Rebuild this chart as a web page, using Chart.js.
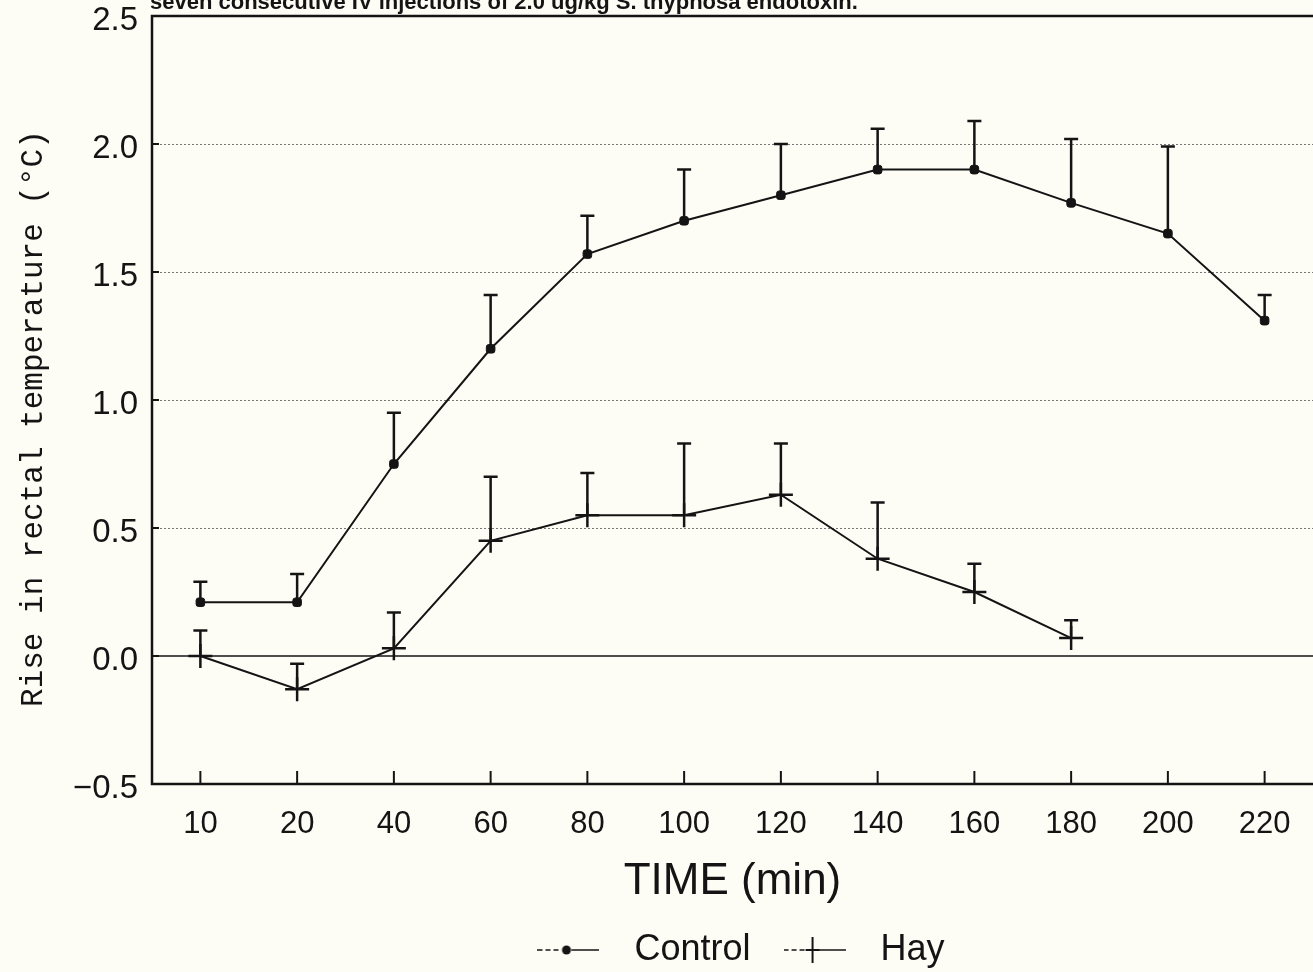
<!DOCTYPE html>
<html>
<head>
<meta charset="utf-8">
<script src="https://cdn.jsdelivr.net/npm/chart.js@4.4.0/dist/chart.umd.min.js"></script>
<style>
  html, body { margin: 0; padding: 0; background: #fdfcf5; overflow: hidden; }
  canvas { display: block; }
</style>
</head>
<body>
<canvas id="chart" width="1313" height="972"></canvas>
<script>
// time points (min), equally spaced on the original plot
const times = ['10', '20', '40', '60', '80', '100', '120', '140', '160', '180', '200', '220'];

// rise in rectal temperature (deg C), mean and top of error bar
const controlMean  = [0.21, 0.21, 0.75, 1.20, 1.57, 1.70, 1.80, 1.90, 1.90, 1.77, 1.65, 1.31];
const controlUpper = [0.29, 0.32, 0.95, 1.41, 1.72, 1.90, 2.00, 2.06, 2.09, 2.02, 1.99, 1.41];
const hayMean  = [0.00, -0.13, 0.03, 0.45, 0.55, 0.55, 0.63, 0.38, 0.25, 0.07, null, null];
const hayUpper = [0.10, -0.03, 0.17, 0.70, 0.715, 0.83, 0.83, 0.60, 0.36, 0.14, null, null];

const yTicks = [-0.5, 0.0, 0.5, 1.0, 1.5, 2.0, 2.5];
const dottedGrid = [0.5, 1.0, 1.5, 2.0];

const topNote = 'seven consecutive IV injections of 2.0 ug/kg S. thyphosa endotoxin.';

const INK = '#141414';
const SANS = '"Liberation Sans", Arial, sans-serif';

// little legend symbols: dashed lead-in, marker, solid tail
function legendSymbol(kind) {
    const c = document.createElement('canvas');
    c.width = 62; c.height = 28;
    const g = c.getContext('2d');
    g.strokeStyle = INK; g.fillStyle = INK; g.lineWidth = 1.5;
    g.setLineDash([5, 3]);
    g.beginPath(); g.moveTo(0, 14); g.lineTo(24, 14); g.stroke();
    g.setLineDash([]);
    g.beginPath(); g.moveTo(34, 14); g.lineTo(62, 14); g.stroke();
    if (kind === 'dot') {
        g.beginPath(); g.arc(29, 14, 4.5, 0, Math.PI * 2); g.fill();
    } else {
        g.lineWidth = 2;
        g.beginPath(); g.moveTo(29, 1); g.lineTo(29, 27); g.stroke();
        g.beginPath(); g.moveTo(22, 14); g.lineTo(36, 14); g.stroke();
    }
    return c;
}
const symbols = [legendSymbol('dot'), legendSymbol('cross')];

const framePlugin = {
    id: 'frame',
    beforeDraw(chart) {
        const ctx = chart.ctx;
        ctx.save();
        ctx.fillStyle = '#fdfcf5';
        ctx.fillRect(0, 0, chart.width, chart.height);
        ctx.restore();
    },
    beforeDatasetsDraw(chart) {
        const ctx = chart.ctx;
        const area = chart.chartArea;
        const x = chart.scales.x, y = chart.scales.y;
        ctx.save();
        // dotted grid lines
        ctx.strokeStyle = '#777';
        ctx.lineWidth = 1;
        ctx.setLineDash([2, 2]);
        dottedGrid.forEach(v => {
            const py = Math.round(y.getPixelForValue(v)) + 0.5;
            ctx.beginPath(); ctx.moveTo(area.left, py); ctx.lineTo(area.right, py); ctx.stroke();
        });
        ctx.setLineDash([]);
        // zero line
        ctx.strokeStyle = INK;
        ctx.lineWidth = 1.5;
        const y0 = y.getPixelForValue(0);
        ctx.beginPath(); ctx.moveTo(area.left, y0); ctx.lineTo(area.right, y0); ctx.stroke();
        // frame: left, top, bottom
        ctx.lineWidth = 2.5;
        ctx.beginPath();
        ctx.moveTo(area.right, area.top);
        ctx.lineTo(area.left, area.top);
        ctx.lineTo(area.left, area.bottom);
        ctx.lineTo(area.right, area.bottom);
        ctx.stroke();
        // inward ticks
        ctx.lineWidth = 2;
        times.forEach((t, i) => {
            const px = x.getPixelForValue(i);
            ctx.beginPath(); ctx.moveTo(px, area.bottom); ctx.lineTo(px, area.bottom - 13); ctx.stroke();
        });
        yTicks.forEach(v => {
            const py = y.getPixelForValue(v);
            ctx.beginPath(); ctx.moveTo(area.left, py); ctx.lineTo(area.left + 7, py); ctx.stroke();
        });
        // error bars (upper only)
        ctx.lineWidth = 2.5;
        [[controlMean, controlUpper], [hayMean, hayUpper]].forEach(([m, u]) => {
            m.forEach((v, i) => {
                if (v === null || u[i] === null) return;
                const px = x.getPixelForValue(i);
                const p0 = y.getPixelForValue(v), p1 = y.getPixelForValue(u[i]);
                ctx.beginPath();
                ctx.moveTo(px, p0); ctx.lineTo(px, p1);
                ctx.moveTo(px - 7, p1); ctx.lineTo(px + 7, p1);
                ctx.stroke();
            });
        });
        ctx.restore();
    },
    afterDraw(chart) {
        const ctx = chart.ctx;
        ctx.save();
        ctx.fillStyle = INK;
        ctx.font = 'bold 22px ' + SANS;
        ctx.textBaseline = 'alphabetic';
        ctx.fillText(topNote, 150, 9);
        ctx.restore();
    }
};

new Chart(document.getElementById('chart'), {
    type: 'line',
    data: {
        labels: times,
        datasets: [
            {
                label: 'Control',
                data: controlMean,
                borderColor: INK,
                backgroundColor: INK,
                borderWidth: 2,
                pointStyle: 'rectRounded',
                pointRadius: 5,
                pointBorderWidth: 1,
                tension: 0
            },
            {
                label: 'Hay',
                data: hayMean,
                borderColor: INK,
                backgroundColor: INK,
                borderWidth: 2,
                pointStyle: 'cross',
                pointRadius: 12,
                pointBorderWidth: 2.5,
                tension: 0
            }
        ]
    },
    options: {
        responsive: false,
        animation: false,
        layout: { autoPadding: false, padding: { top: 16, right: 0, left: 0, bottom: -6 } },
        plugins: {
            tooltip: { enabled: false },
            legend: {
                position: 'bottom',
                fullSize: false,
                labels: {
                    color: INK,
                    font: { family: SANS, size: 36 },
                    usePointStyle: true,
                    pointStyleWidth: 96,
                    padding: 16,
                    generateLabels: chart => {
                        const items = Chart.defaults.plugins.legend.labels.generateLabels(chart);
                        items.forEach((it, i) => { it.pointStyle = symbols[i]; });
                        return items;
                    }
                }
            }
        },
        scales: {
            x: {
                type: 'category',
                offset: true,
                afterFit: s => { s.height = 132; s.paddingLeft = 0; s.paddingRight = 0; },
                grid: { display: false, drawTicks: false },
                border: { display: false },
                ticks: {
                    color: INK,
                    font: { family: SANS, size: 31 },
                    padding: 22,
                    maxRotation: 0,
                    autoSkip: false
                },
                title: {
                    display: true,
                    text: 'TIME (min)',
                    color: INK,
                    font: { family: SANS, size: 44, lineHeight: 1.0 },
                    padding: { top: 0, bottom: 12 }
                }
            },
            y: {
                min: -0.5,
                max: 2.5,
                afterBuildTicks: s => { s.ticks = yTicks.map(v => ({ value: v })); },
                afterFit: s => { s.width = 152; s.paddingTop = 0; s.paddingBottom = 0; },
                grid: { display: false, drawTicks: false },
                border: { display: false },
                ticks: {
                    color: INK,
                    font: { family: SANS, size: 33 },
                    padding: 14,
                    labelOffset: 5,
                    callback: v => v.toFixed(1).replace('-', '\u2212')
                },
                title: {
                    display: true,
                    text: 'Rise in rectal temperature (°C)  ',
                    color: INK,
                    font: { family: '"Liberation Mono", monospace', size: 31 },
                    padding: { top: 15, bottom: 0 }
                }
            }
        }
    },
    plugins: [framePlugin]
});
</script>
</body>
</html>
